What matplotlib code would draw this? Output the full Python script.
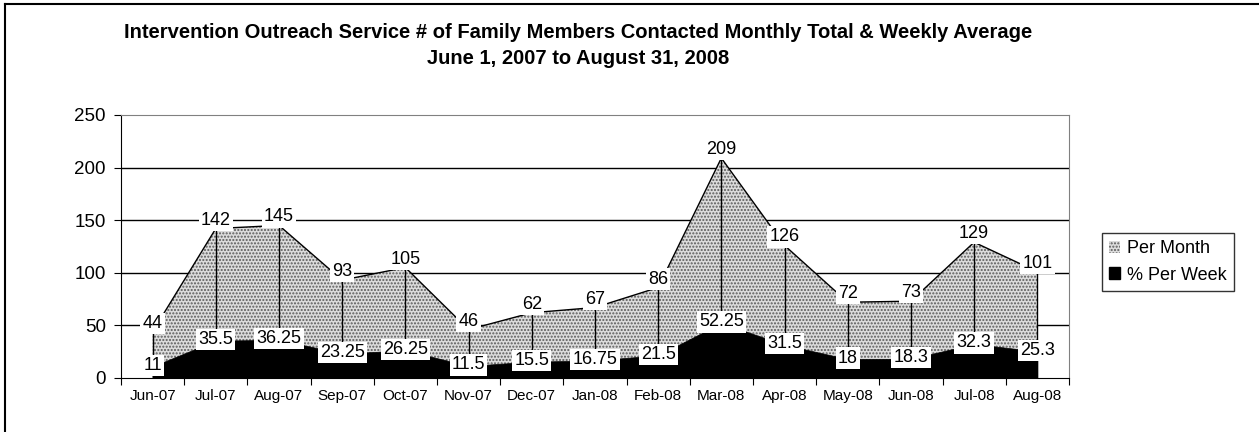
import numpy as np
from matplotlib import pyplot as plt
from matplotlib.patches import Patch

plt.rcParams['font.family'] = ['Liberation Sans', 'DejaVu Sans']
plt.rcParams['hatch.linewidth'] = 1.0

months = ["Jun-07", "Jul-07", "Aug-07", "Sep-07", "Oct-07", "Nov-07", "Dec-07", "Jan-08",
          "Feb-08", "Mar-08", "Apr-08", "May-08", "Jun-08", "Jul-08", "Aug-08"]
per_month = [44, 142, 145, 93, 105, 46, 62, 67, 86, 209, 126, 72, 73, 129, 101]
per_week = [11, 35.5, 36.25, 23.25, 26.25, 11.5, 15.5, 16.75, 21.5, 52.25, 31.5, 18, 18.3, 32.3, 25.3]
week_labels = ["11", "35.5", "36.25", "23.25", "26.25", "11.5", "15.5", "16.75", "21.5",
               "52.25", "31.5", "18", "18.3", "32.3", "25.3"]

x = np.arange(len(months)) + 0.5

fig = plt.figure(figsize=(12.59, 4.32), dpi=100)
ax = fig.add_axes([0.0961, 0.125, 0.849 - 0.0961, 0.734 - 0.125])

# gridlines
for g in [50, 100, 150, 200]:
    ax.axhline(g, color='black', lw=1, zorder=0)

# per month stippled area
stipple_face = '#dcdcdc'
stipple_dots = '#5a5a5a'
ax.fill_between(x, per_month, 0, facecolor=stipple_face, hatch='.....', edgecolor=stipple_dots,
                linewidth=0, zorder=1)
ax.plot(x, per_month, color='black', lw=1, zorder=2)
ax.vlines(x, 0, per_month, color='black', lw=1, zorder=2)

# per week black area
ax.fill_between(x, per_week, 0, facecolor='black', edgecolor='black', lw=0.5, zorder=3)

box = dict(facecolor='white', edgecolor='none', pad=1.5)
for xi, v in zip(x, per_month):
    ax.text(xi, v + 8, str(v), ha='center', va='center', fontsize=13, bbox=box, zorder=5)
for xi, v, s in zip(x, per_week, week_labels):
    ax.text(xi, v + 1, s, ha='center', va='center', fontsize=13, bbox=box, zorder=5)

ax.set_xlim(0, len(months))
ax.set_ylim(0, 250)
ax.set_yticks([0, 50, 100, 150, 200, 250])
ax.set_xticks(np.arange(len(months) + 1))
ax.set_xticklabels([])
ax.set_xticks(x, minor=True)
ax.set_xticklabels(months, minor=True, fontsize=11)
ax.tick_params(axis='x', which='minor', length=0, pad=8)
ax.tick_params(axis='x', which='major', length=5, direction='out', color='black')
ax.tick_params(axis='y', length=5, direction='out', labelsize=13.5, pad=6)

ax.spines['left'].set_color('black')
ax.spines['bottom'].set_color('black')
ax.spines['top'].set_color('#808080')
ax.spines['right'].set_color('#808080')

fig.text(578 / 1259, 1 - 33 / 432, "Intervention Outreach Service # of Family Members Contacted Monthly Total & Weekly Average",
         ha='center', va='center', fontsize=14.5, fontweight='bold')
fig.text(578 / 1259, 1 - 58 / 432, "June 1, 2007 to August 31, 2008",
         ha='center', va='center', fontsize=14.5, fontweight='bold')

handles = [Patch(facecolor=stipple_face, hatch='.....', edgecolor=stipple_dots, lw=0),
           Patch(facecolor='black', edgecolor='black')]
leg = fig.legend(handles, ["Per Month", "% Per Week"], loc='center left',
                 bbox_to_anchor=(1102 / 1259, 1 - 262 / 432), fontsize=13, frameon=True,
                 fancybox=False, edgecolor='black', handlelength=0.6, handleheight=0.6,
                 handletextpad=0.4, borderpad=0.4, labelspacing=0.5, borderaxespad=0)
leg.get_frame().set_linewidth(1)

# chart border
fig.add_artist(plt.Line2D([5 / 1259, 5 / 1259], [0, 1 - 4 / 432], color='black', lw=1.5,
                          transform=fig.transFigure))
fig.add_artist(plt.Line2D([5 / 1259, 1], [1 - 4 / 432, 1 - 4 / 432], color='black', lw=1.5,
                          transform=fig.transFigure))

fig.savefig("out.png", dpi=100)
